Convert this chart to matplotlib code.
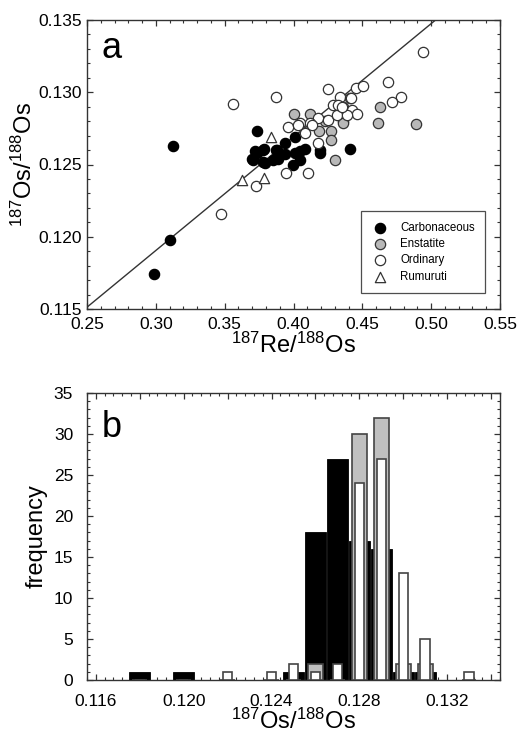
import matplotlib
matplotlib.use("Agg")
import matplotlib.pyplot as plt
from matplotlib.ticker import MultipleLocator, FixedLocator, FixedFormatter
import numpy as np

plt.rcParams['font.family'] = ['Liberation Sans', 'DejaVu Sans']
plt.rcParams['mathtext.fontset'] = 'custom'
plt.rcParams['mathtext.rm'] = 'Liberation Sans'
plt.rcParams['mathtext.it'] = 'Liberation Sans'

# ---------------- Panel a data ----------------
carb_re = [0.2987, 0.3103, 0.3127, 0.3738, 0.3697, 0.3733, 0.3786, 0.3794, 0.3878, 0.3890,
           0.3939, 0.3939, 0.4011, 0.4084, 0.4193, 0.4411, 0.3721, 0.3781, 0.3873, 0.4011,
           0.4048, 0.3709, 0.3781, 0.3854, 0.3999, 0.4048, 0.4193]
carb_os = [0.1174, 0.1198, 0.1263, 0.1273, 0.1254, 0.1258, 0.1261, 0.1251, 0.1260, 0.1254,
           0.1257, 0.1265, 0.1269, 0.1261, 0.1260, 0.1261, 0.1259, 0.1260, 0.1260, 0.1258,
           0.1253, 0.1253, 0.1252, 0.1253, 0.1250, 0.1259, 0.1258]

enst_re = [0.4006, 0.4120, 0.4363, 0.4188, 0.4271, 0.4271, 0.4302, 0.4629, 0.4617, 0.4891,
           0.4230, 0.4360]
enst_os = [0.1285, 0.1285, 0.1280, 0.1273, 0.1273, 0.1267, 0.1253, 0.1290, 0.1279, 0.1278,
           0.1280, 0.1279]

ord_re = [0.3472, 0.3563, 0.3871, 0.3728, 0.3946, 0.4108, 0.4253, 0.4339, 0.4411, 0.4455,
          0.4508, 0.4690, 0.4944, 0.4780, 0.4714, 0.4290, 0.4363, 0.4423, 0.4048, 0.3963,
          0.4181, 0.4120, 0.4253, 0.4314, 0.4177, 0.4084, 0.4036, 0.4133, 0.4460, 0.4387,
          0.4326, 0.4351, 0.4416]
ord_os = [0.1216, 0.1292, 0.1297, 0.1235, 0.1244, 0.1244, 0.1302, 0.1297, 0.1296, 0.1303,
          0.1304, 0.1307, 0.1328, 0.1297, 0.1293, 0.1291, 0.1290, 0.1288, 0.1279, 0.1276,
          0.1282, 0.1279, 0.1281, 0.1284, 0.1265, 0.1272, 0.1277, 0.1277, 0.1285, 0.1284,
          0.1291, 0.1290, 0.1296]

rum_re = [0.3835, 0.3624, 0.3786]
rum_os = [0.1269, 0.1239, 0.1241]

line_slope = 0.0785
line_intercept = 0.0955

# ---------------- Panel b data ----------------
bin_centers = [0.118, 0.120, 0.122, 0.124, 0.125, 0.126, 0.127, 0.128, 0.129, 0.130, 0.131, 0.133]
black_counts = [1, 1, 0, 0, 1, 18, 27, 17, 16, 1, 1, 0]
grey_counts  = [0, 0, 0, 0, 0, 2, 0, 30, 32, 2, 2, 0]
white_counts = [0, 0, 1, 1, 2, 1, 2, 24, 27, 13, 5, 1]

# ---------------- Figure ----------------
fig = plt.figure(figsize=(5.17, 7.36), dpi=100)
L, R = 87/517, 500/517
axa = fig.add_axes([L, 1-309/736, R-L, (309-20)/736])
axb = fig.add_axes([L, 1-680/736, R-L, (680-393)/736])

for ax in (axa, axb):
    for s in ax.spines.values():
        s.set_linewidth(1.0)
        s.set_color('#333333')
    ax.tick_params(which='both', direction='in', top=True, right=True,
                   labelsize=12.5, colors='#333333', labelcolor='black')
    ax.tick_params(which='major', length=4, width=0.9)
    ax.tick_params(which='minor', length=2, width=0.8)

axa.tick_params(axis='x', which='major', pad=6)
axb.tick_params(axis='x', which='major', pad=10)
axb.tick_params(axis='y', which='major', pad=10)

# panel a
xl = np.array([0.25, 0.55])
axa.plot(xl, line_intercept + line_slope*xl, color='#333333', lw=1.0, zorder=1)
ms = 55
axa.scatter(carb_re, carb_os, s=ms, c='black', edgecolors='black', linewidths=0.9, zorder=2, label='Carbonaceous')
axa.scatter(enst_re, enst_os, s=ms, c='#b8b8b8', edgecolors='#333333', linewidths=0.9, zorder=3, label='Enstatite')
axa.scatter(ord_re, ord_os, s=ms, c='white', edgecolors='#333333', linewidths=0.9, zorder=4, label='Ordinary')
axa.scatter(rum_re, rum_os, s=ms, marker='^', c='white', edgecolors='#333333', linewidths=0.9, zorder=5, label='Rumuruti')
axa.set_xlim(0.25, 0.55)
axa.set_ylim(0.115, 0.135)
axa.xaxis.set_major_locator(MultipleLocator(0.05))
axa.xaxis.set_minor_locator(MultipleLocator(0.01))
axa.yaxis.set_major_locator(MultipleLocator(0.005))
axa.yaxis.set_minor_locator(MultipleLocator(0.001))
axa.xaxis.set_major_formatter(plt.FormatStrFormatter('%.2f'))
axa.yaxis.set_major_formatter(plt.FormatStrFormatter('%.3f'))
axa.set_xlabel(r'$^{187}$Re/$^{188}$Os', fontsize=17, labelpad=0)
axa.set_ylabel(r'$^{187}$Os/$^{188}$Os', fontsize=17, labelpad=1)
axa.text(0.036, 0.87, 'a', transform=axa.transAxes, fontsize=26)
leg = axa.legend(loc='lower right', bbox_to_anchor=(0.964, 0.055), fontsize=8.3,
                 frameon=True, fancybox=False, edgecolor='#222222', borderpad=0.9,
                 borderaxespad=0, handletextpad=1.0, labelspacing=0.38,
                 handlelength=1.5, scatterpoints=1)
leg.get_frame().set_linewidth(0.9)

# panel b
axb.bar(bin_centers, black_counts, width=0.00094, color='black', edgecolor='black', linewidth=0.6, zorder=2)
axb.bar(bin_centers, grey_counts, width=0.00066, color='#c0c0c0', edgecolor='#444444', linewidth=1.2, zorder=3)
axb.bar(bin_centers, white_counts, width=0.00044, color='white', edgecolor='#444444', linewidth=1.2, zorder=4)
axb.set_xlim(0.1156, 0.1344)
axb.set_ylim(0, 35)
xt = [0.116, 0.118, 0.120, 0.122, 0.124, 0.126, 0.128, 0.130, 0.132, 0.134]
xtl = ['0.116', '', '0.120', '', '0.124', '', '0.128', '', '0.132', '']
axb.xaxis.set_major_locator(FixedLocator(xt))
axb.xaxis.set_major_formatter(FixedFormatter(xtl))
axb.xaxis.set_minor_locator(MultipleLocator(0.0004))
axb.yaxis.set_major_locator(MultipleLocator(5))
axb.yaxis.set_minor_locator(MultipleLocator(1))
axb.set_xlabel(r'$^{187}$Os/$^{188}$Os', fontsize=17, labelpad=0)
axb.set_ylabel('frequency', fontsize=17, labelpad=4)
axb.text(0.036, 0.847, 'b', transform=axb.transAxes, fontsize=26)

fig.savefig('out.png', dpi=100)
